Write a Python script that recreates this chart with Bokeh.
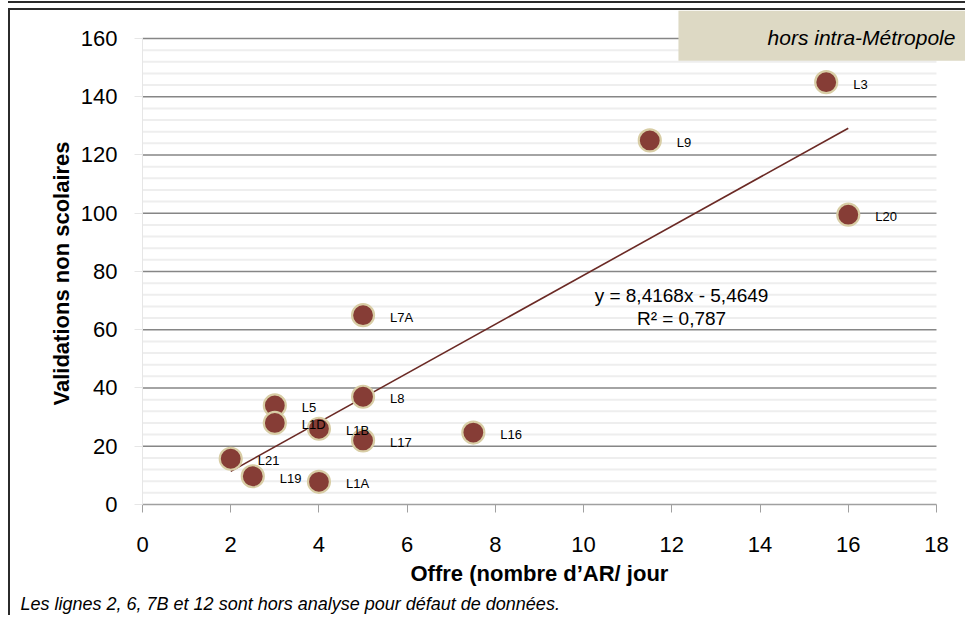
from bokeh.plotting import figure
from bokeh.models import (ColumnDataSource, LabelSet, Label, BoxAnnotation, Title,
                          FixedTicker, Range1d)
from bokeh.core.properties import value
from bokeh.embed import file_html
from bokeh.resources import INLINE

# ---- data ----
lines = ["L3", "L9", "L20", "L7A", "L8", "L5", "L1D", "L1B", "L17", "L16", "L21", "L19", "L1A"]
offre = [15.5, 11.5, 16.0, 5.0, 5.0, 3.0, 3.0, 4.0, 5.0, 7.5, 2.0, 2.5, 4.0]
validations = [145, 125, 99.5, 65, 37, 34, 28, 26, 22, 24.7, 15.7, 9.7, 7.8]

slope = 8.4168
intercept = -5.4649
r2 = 0.787
trend_x = [2, 16]

x_ticks = [0, 2, 4, 6, 8, 10, 12, 14, 16, 18]
y_ticks = [0, 20, 40, 60, 80, 100, 120, 140, 160]
y_minor_step = 4

FONT = "Liberation Sans"

# frame extended to the top and right edge so the corner box can reach them
x_end = 18.703
y_end = 169.61

p = figure(width=957, height=607, output_backend="svg", toolbar_location=None,
           x_range=Range1d(0, x_end), y_range=Range1d(0, y_end),
           min_border_left=132, min_border_right=0, min_border_top=0,
           min_border_bottom=113)
p.outline_line_color = None
p.background_fill_color = "white"
p.border_fill_color = "white"
p.styles = {"margin-left": "8px", "margin-top": "8px",
            "border-top": "2px solid #2b2b2b", "border-left": "2px solid #2b2b2b",
            "box-shadow": "0 -5px 0 0 white, 0 -7px 0 0 #2b2b2b"}

# grids drawn over the 0-18 span only
p.xgrid.grid_line_color = None
p.ygrid.grid_line_color = None
minor_vals = [v for v in range(y_ticks[0], y_ticks[-1], y_minor_step) if v % 20 != 0]
major_vals = y_ticks[1:]
p.segment(x0=[x_ticks[0]] * len(minor_vals), x1=[x_ticks[-1]] * len(minor_vals),
          y0=minor_vals, y1=minor_vals, line_color="#EEEEEE", line_width=2)
p.segment(x0=[x_ticks[0]] * len(major_vals), x1=[x_ticks[-1]] * len(major_vals),
          y0=major_vals, y1=major_vals, line_color="#868686", line_width=1.5)

# axes
p.xaxis.ticker = FixedTicker(ticks=x_ticks)
p.xaxis.bounds = (x_ticks[0], x_ticks[-1])
p.xaxis.axis_line_color = "#A0A0A0"
p.xaxis.axis_line_width = 1.5
p.xaxis.major_tick_line_color = "#A0A0A0"
p.xaxis.major_tick_out = 8
p.xaxis.major_tick_in = 0
p.xaxis.minor_tick_line_color = None
p.xaxis.major_label_text_font = FONT
p.xaxis.major_label_text_font_size = "22px"
p.xaxis.major_label_text_color = "black"
p.xaxis.major_label_standoff = 24

p.yaxis.ticker = FixedTicker(ticks=y_ticks)
p.yaxis.bounds = (y_ticks[0], y_ticks[-1])
p.yaxis.axis_line_color = "#E6E6E6"
p.yaxis.major_tick_line_color = "#E6E6E6"
p.yaxis.major_tick_out = 8
p.yaxis.major_tick_in = 0
p.yaxis.minor_tick_line_color = None
p.yaxis.major_label_text_font = FONT
p.yaxis.major_label_text_font_size = "22px"
p.yaxis.major_label_text_color = "black"
p.yaxis.major_label_standoff = 17

# axis titles and footnote as side titles
p.add_layout(Title(text="Offre (nombre d\u2019AR/ jour", align="left", offset=268,
                   text_font=FONT, text_font_size="22px", text_font_style="bold",
                   text_color="black", standoff=9), "below")
p.add_layout(Title(text="Les lignes 2, 6, 7B et 12 sont hors analyse pour d\u00e9faut de donn\u00e9es.",
                   align="left", offset=-122, text_font=FONT, text_font_size="18px",
                   text_font_style="italic", text_color="black", standoff=3), "below")
p.add_layout(Title(text="Validations non scolaires", align="left", offset=99,
                   text_font=FONT, text_font_size="22px", text_font_style="bold",
                   text_color="black", standoff=8), "left")

# trend line
trend_y = [slope * x + intercept for x in trend_x]
p.line(trend_x, trend_y, line_color="#6B2A25", line_width=1.6)

# points
src = ColumnDataSource(dict(x=offre, y=validations, name=lines))
p.scatter("x", "y", source=src, size=22, fill_color="#863D36",
          line_color="#D8CDA5", line_width=2.2)
p.add_layout(LabelSet(x="x", y="y", text="name", source=src, x_offset=27, y_offset=-2,
                      text_font=value(FONT), text_font_size="13px", text_baseline="middle",
                      text_align="left", text_color="black"))

# equation
eq = "y = " + f"{slope:.4f}".replace(".", ",") + "x - " + f"{-intercept:.4f}".replace(".", ",")
p.add_layout(Label(x=12.22, y=71.8, text=eq, text_font=FONT, text_font_size="19px",
                   text_align="center", text_baseline="middle", text_color="black"))
p.add_layout(Label(x=12.22, y=63.9, text="R\u00b2 = " + f"{r2:.3f}".replace(".", ","),
                   text_font=FONT, text_font_size="19px",
                   text_align="center", text_baseline="middle", text_color="black"))

# beige annotation box in the top-right corner
p.add_layout(BoxAnnotation(left=12.15, bottom=152.4,
                           fill_color="#DDD9C4", fill_alpha=1.0, line_color=None))
p.add_layout(Label(x=18.43, y=160.3, text="hors intra-M\u00e9tropole", text_font=FONT,
                   text_font_size="21px", text_font_style="italic",
                   text_align="right", text_baseline="middle", text_color="black"))

open("out.html", "w").write(file_html(p, INLINE))
